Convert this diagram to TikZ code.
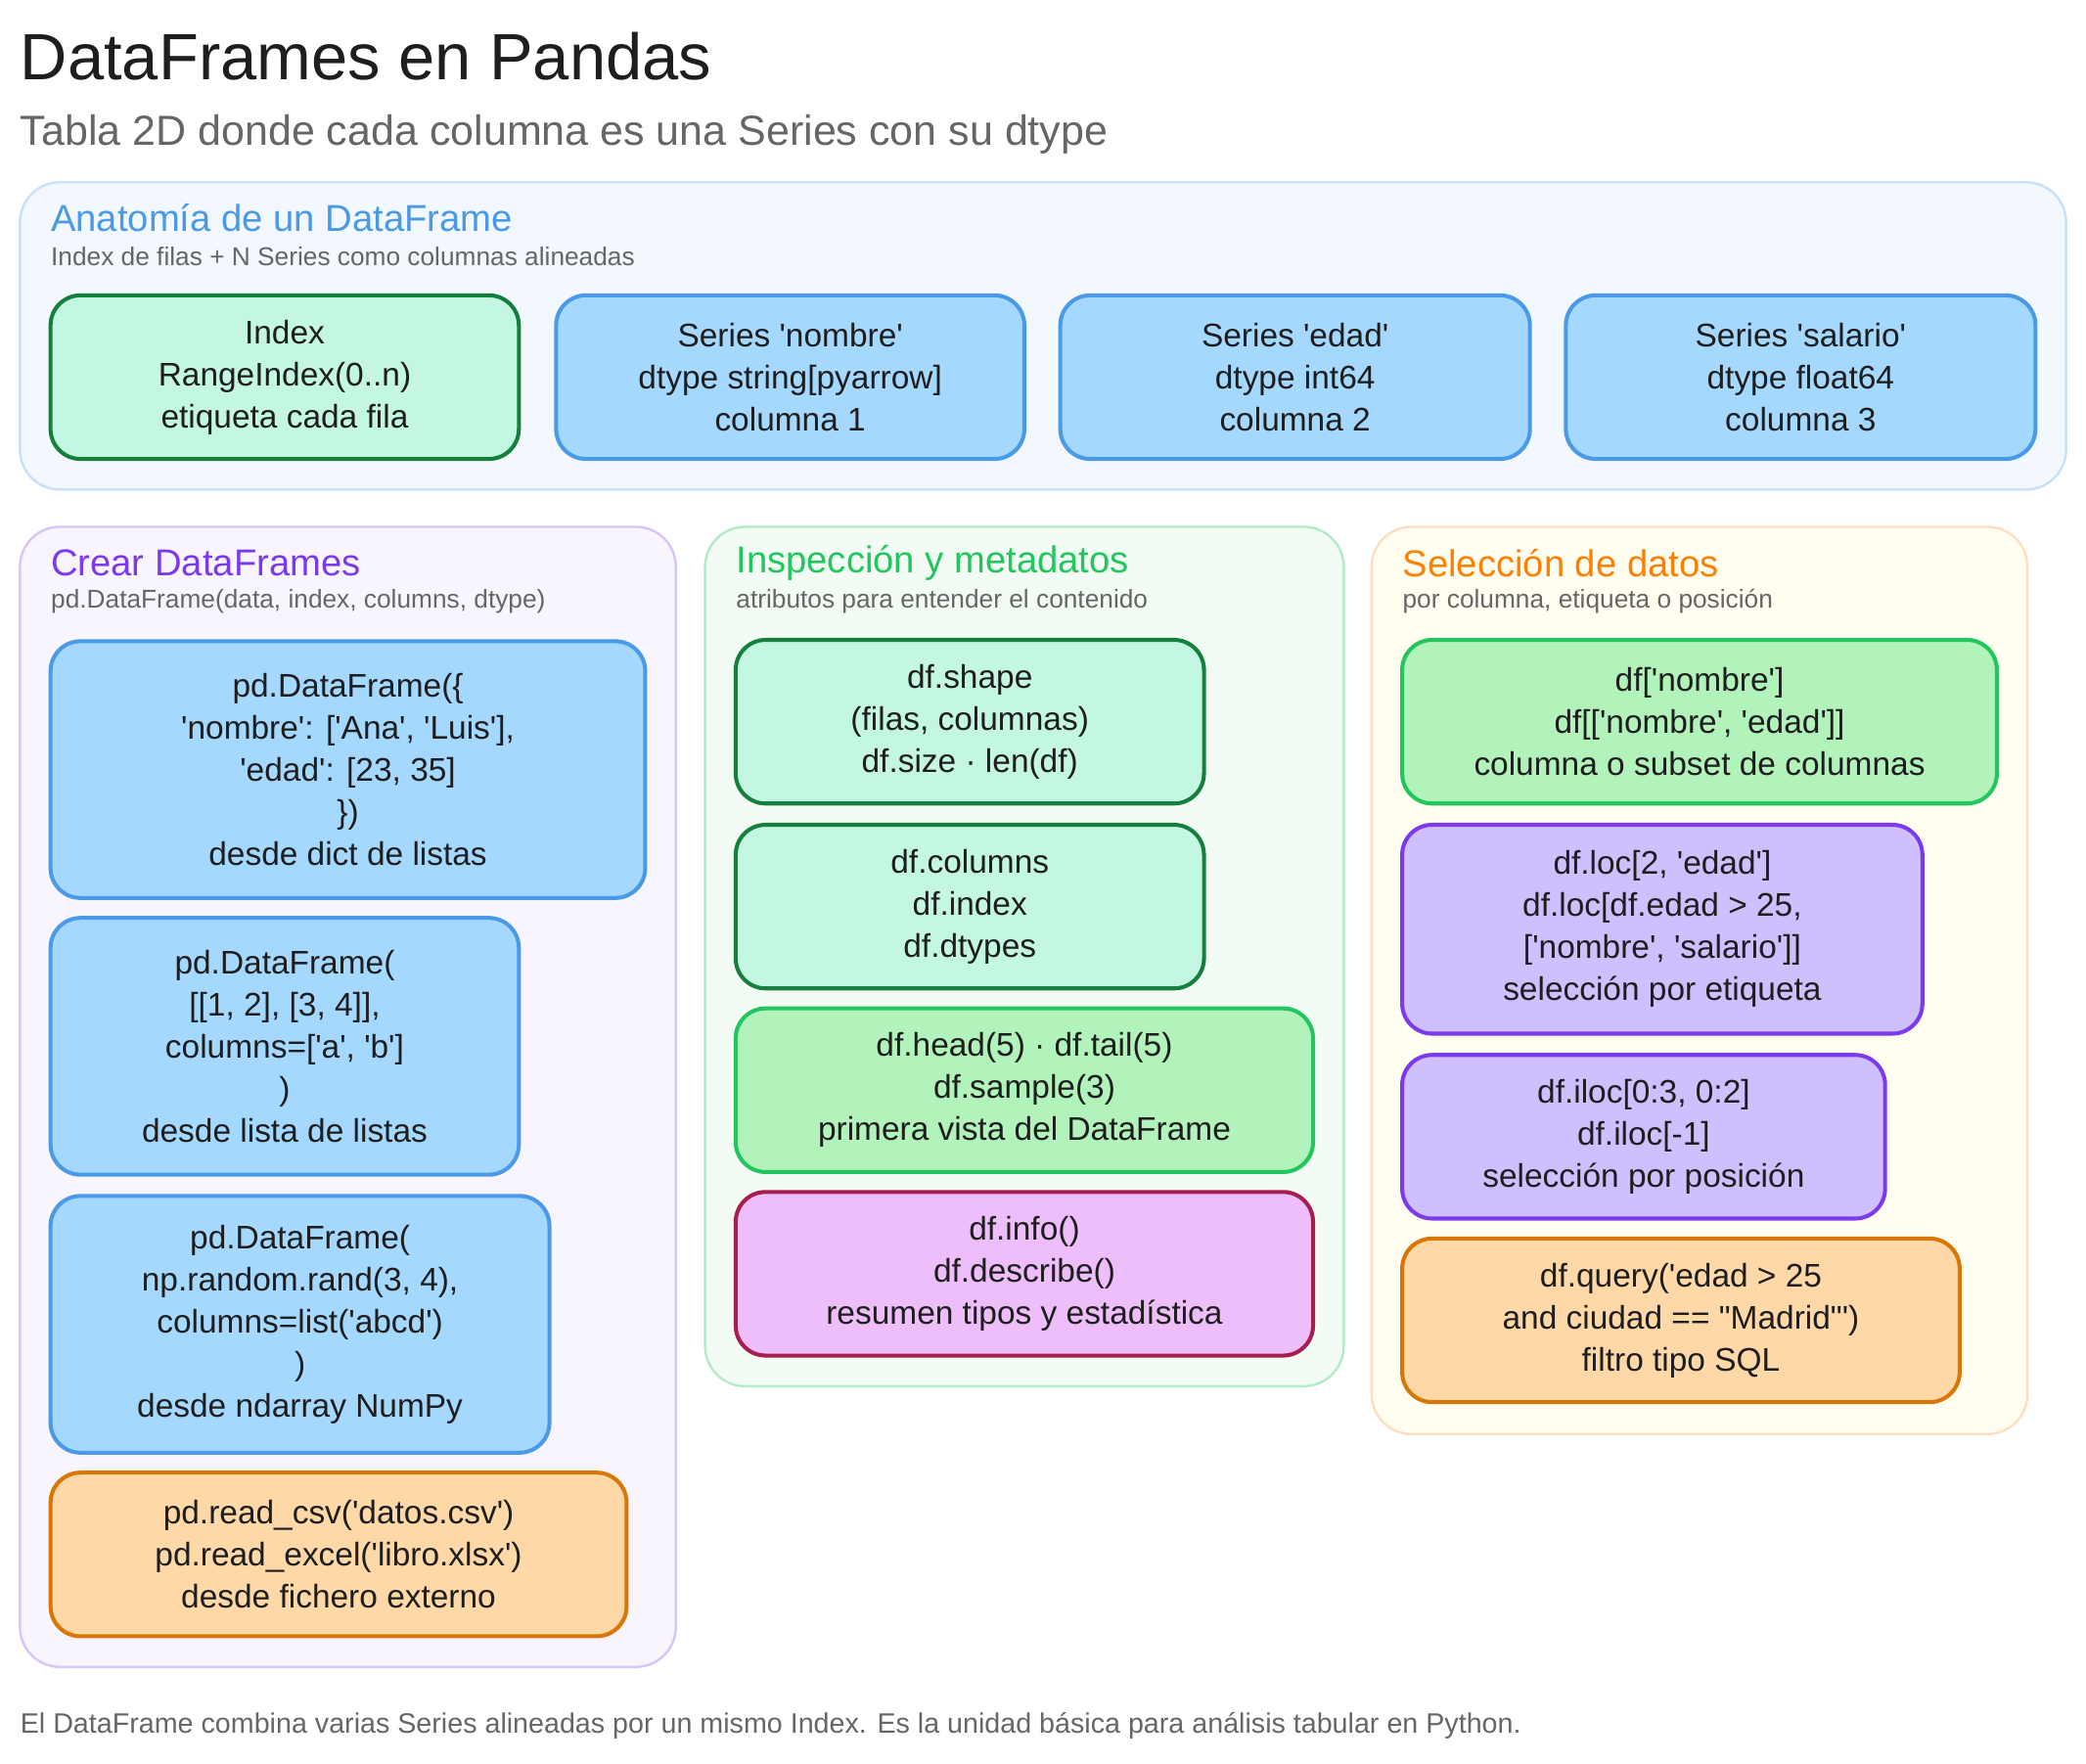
\documentclass[tikz,border=0pt]{standalone}
\usepackage{fontspec}
\setmainfont{Liberation Sans}[Ligatures=TeXOff]
\usetikzlibrary{fit}
\newcommand{\q}{'}
\newcommand{\qq}{"}
\definecolor{bluef}{HTML}{A5D8FF}\definecolor{bluel}{HTML}{4A9AE8}
\definecolor{tealf}{HTML}{C3F7E2}\definecolor{teall}{HTML}{15803D}
\definecolor{greenf}{HTML}{B2F2BB}\definecolor{greenl}{HTML}{22C55E}
\definecolor{orangef}{HTML}{FFD8A8}\definecolor{orangel}{HTML}{D97706}
\definecolor{purplef}{HTML}{D0BFFF}\definecolor{purplel}{HTML}{7C3AED}
\definecolor{pinkf}{HTML}{EEBEFA}\definecolor{pinkl}{HTML}{A61E4D}
\definecolor{txt}{HTML}{1E1E1E}\definecolor{gr}{HTML}{666666}
\tikzset{
 x=0.02cm,y=-0.02cm,
 box/.style={rounded corners=0.45cm,line width=1.7pt,inner sep=0pt},
 bl/.style={box,draw=bluel,fill=bluef},
 tl/.style={box,draw=teall,fill=tealf},
 gn/.style={box,draw=greenl,fill=greenf},
 og/.style={box,draw=orangel,fill=orangef},
 pu/.style={box,draw=purplel,fill=purplef},
 pk/.style={box,draw=pinkl,fill=pinkf},
 panel/.style={rounded corners=0.6cm,line width=1pt,inner sep=0pt},
 bt/.style={align=center,text=txt,font=\fontsize{14}{18}\selectfont},
 pt/.style={anchor=west,inner sep=0pt,font=\fontsize{16}{20}\selectfont},
 ps/.style={anchor=west,inner sep=0pt,text=gr,font=\fontsize{11}{14}\selectfont},
}
\newcommand{\bx}[7]{\node[#6,fit={(#2,#3)(#4,#5)}] (#1) {};\node[bt] (#1t) at (#1.center) {#7};}
\begin{document}
\begin{tikzpicture}
\useasboundingbox[fill=white] (0,0) rectangle (1568,1326);
\node[anchor=west,inner sep=0pt,text=txt,font=\fontsize{28}{32}\selectfont] (title) at (15,42) {DataFrames en Pandas};
\node[anchor=west,inner sep=0pt,text=gr,font=\fontsize{18}{22}\selectfont] (sub) at (15,101) {Tabla 2D donde cada columna es una Series con su dtype};
% panel 1
\node[panel,draw=bluel!30,fill=bluel!7,fit={(15,137)(1553,368)}] (p1) {};
\node[pt,text=bluel] (p1t) at (38,164) {Anatomía de un DataFrame};
\node[ps] (p1s) at (38,193) {Index de filas + N Series como columnas alineadas};
\bx{a1}{38}{222}{390}{345}{tl}{Index\\RangeIndex(0..n)\\etiqueta cada fila}
\bx{a2}{418}{222}{770}{345}{bl}{Series \q nombre\q\\dtype string[pyarrow]\\columna 1}
\bx{a3}{797}{222}{1150}{345}{bl}{Series \q edad\q\\dtype int64\\columna 2}
\bx{a4}{1177}{222}{1530}{345}{bl}{Series \q salario\q\\dtype float64\\columna 3}
% panel 2
\node[panel,draw=purplel!30,fill=purplel!5,fit={(15,396)(508,1253)}] (p2) {};
\node[pt,text=purplel] (p2t) at (38,423) {Crear DataFrames};
\node[ps] (p2s) at (38,452) {pd.DataFrame(data, index, columns, dtype)};
\bx{c1}{38}{482}{485}{675}{bl}{pd.DataFrame(\{\\\q nombre\q: [\q Ana\q, \q Luis\q],\\\q edad\q: [23, 35]\\\})\\desde dict de listas}
\bx{c2}{38}{690}{390}{883}{bl}{pd.DataFrame(\\{}[[1, 2], [3, 4]],\\columns=[\q a\q, \q b\q]\\)\\desde lista de listas}
\bx{c3}{38}{899}{413}{1092}{bl}{pd.DataFrame(\\np.random.rand(3, 4),\\columns=list(\q abcd\q)\\)\\desde ndarray NumPy}
\bx{c4}{38}{1107}{471}{1230}{og}{pd.read\_csv(\q datos.csv\q)\\pd.read\_excel(\q libro.xlsx\q)\\desde fichero externo}
% panel 3
\node[panel,draw=greenl!35,fill=greenl!6,fit={(530,396)(1010,1042)}] (p3) {};
\node[pt,text=greenl] (p3t) at (553,423) {Inspección y metadatos};
\node[ps] (p3s) at (553,452) {atributos para entender el contenido};
\bx{i1}{553}{481}{905}{604}{tl}{df.shape\\(filas, columnas)\\df.size · len(df)}
\bx{i2}{553}{620}{905}{743}{tl}{df.columns\\df.index\\df.dtypes}
\bx{i3}{553}{758}{987}{881}{gn}{df.head(5) · df.tail(5)\\df.sample(3)\\primera vista del DataFrame}
\bx{i4}{553}{896}{987}{1019}{pk}{df.info()\\df.describe()\\resumen tipos y estadística}
% panel 4
\node[panel,draw=orange!25,fill=yellow!6,fit={(1031,396)(1524,1078)}] (p4) {};
\node[pt,text=orange] (p4t) at (1054,423) {Selección de datos};
\node[ps] (p4s) at (1054,452) {por columna, etiqueta o posición};
\bx{s1}{1054}{481}{1501}{604}{gn}{df[\q nombre\q]\\df[[\q nombre\q, \q edad\q]]\\columna o subset de columnas}
\bx{s2}{1054}{620}{1445}{777}{pu}{df.loc[2, \q edad\q]\\df.loc[df.edad > 25,\\{}[\q nombre\q, \q salario\q]]\\selección por etiqueta}
\bx{s3}{1054}{793}{1417}{916}{pu}{df.iloc[0:3, 0:2]\\df.iloc[-1]\\selección por posición}
\bx{s4}{1054}{931}{1473}{1054}{og}{df.query(\q edad > 25\\and ciudad == \qq Madrid\qq\q)\\filtro tipo SQL}
\node[anchor=west,inner sep=0pt,text=gr,font=\fontsize{12}{15}\selectfont] (foot) at (15,1297) {El DataFrame combina varias Series alineadas por un mismo Index. Es la unidad básica para análisis tabular en Python.};
\end{tikzpicture}
\end{document}
